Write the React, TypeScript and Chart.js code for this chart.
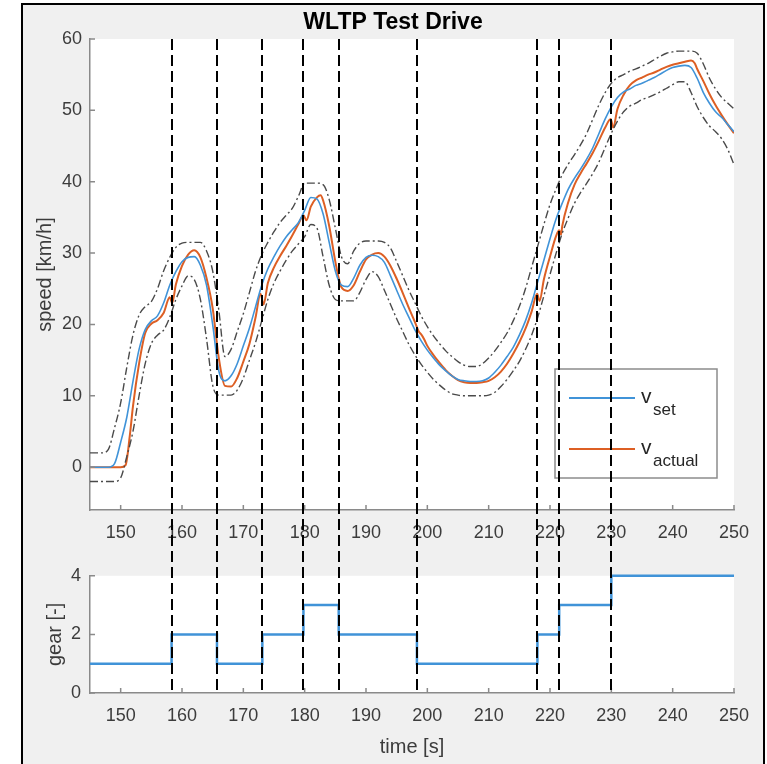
import React, { useEffect, useRef } from 'react';
import { Chart, registerables } from 'chart.js';

Chart.register(...registerables);

const titleText = 'WLTP Test Drive';
const speedLabel = 'speed [km/h]';
const gearLabel = 'gear [-]';
const timeLabel = 'time [s]';
const legendMain = ['v', 'v'];
const legendSubs = ['set', 'actual'];

const xMin = 145;
const xMax = 250;
const xTicks = [150, 160, 170, 180, 190, 200, 210, 220, 230, 240, 250];
const speedTicks = [0, 10, 20, 30, 40, 50, 60];
const gearTicks = [0, 2, 4];

const tSet = [
  145, 146, 147, 148, 149, 150, 151, 152, 153, 154, 155, 156, 157, 158, 159, 160, 161, 162, 163, 164,
  165, 166, 167, 168, 169, 170, 171, 172, 173, 174, 175, 176, 177, 178, 179, 180, 181, 182, 183, 184,
  185, 186, 187, 188, 189, 190, 191, 192, 193, 194, 195, 196, 197, 198, 199, 200, 201, 202, 203, 204,
  205, 206, 207, 208, 209, 210, 211, 212, 213, 214, 215, 216, 217, 218, 219, 220, 221, 222, 223, 224,
  225, 226, 227, 228, 229, 230, 231, 232, 233, 234, 235, 236, 237, 238, 239, 240, 241, 242, 243, 244,
  245, 246, 247, 248, 249, 250,
];

const vSet = [
  0, 0, 0, 0, 0.5, 3.5, 7, 12, 16.5, 19.3, 20.5, 21.2, 23, 25.5, 27.4, 28.8, 29.4, 29.5, 28.3, 25.5,
  20, 13.5, 12.1, 12.8, 14.5, 17, 19.5, 22.5, 25.5, 27.8, 29.5, 31, 32.3, 33.3, 34.3, 36, 37.8, 37.6, 35.5, 31.5,
  27.5, 25.5, 25.3, 26.5, 28.3, 29.4, 29.7, 29.5, 28.7, 26.8, 24.8, 22.8, 21, 19.2, 17.7, 16.4, 15.3, 14.3, 13.5, 12.8,
  12.3, 12.1, 12, 12, 12.1, 12.5, 13.3, 14.3, 15.5, 16.8, 18.5, 20.5, 23, 26, 29, 32, 34.8, 37, 39, 40.5,
  41.8, 43.2, 44.8, 46.8, 48.8, 50.5, 51.8, 52.6, 53, 53.5, 53.8, 54.2, 54.6, 55.1, 55.6, 56, 56.2, 56.3, 56, 54.5,
  52.5, 51, 49.8, 49, 48, 47,
];

const vUpper = [
  2, 2, 2, 2.5, 5.5, 9, 14, 18.5, 21.3, 22.5, 23.2, 25, 27.5, 29.4, 30.8, 31.4, 31.5, 31.5, 31.5, 30.3,
  27.5, 22, 15.5, 16.5, 19, 21.5, 24.5, 27.5, 29.8, 31.5, 33, 34.3, 35.3, 36.3, 38, 39.8, 39.8, 39.8, 39.6, 37.5,
  33.5, 29.5, 28.5, 30.3, 31.4, 31.7, 31.7, 31.7, 31.5, 30.7, 28.8, 26.8, 24.8, 23, 21.2, 19.7, 18.4, 17.3, 16.3, 15.5,
  14.8, 14.3, 14.1, 14.1, 14.5, 15.3, 16.3, 17.5, 18.8, 20.5, 22.5, 25, 28, 31, 34, 36.8, 39, 41, 42.5, 43.8,
  45.2, 46.8, 48.8, 50.8, 52.5, 53.8, 54.6, 55, 55.5, 55.8, 56.2, 56.6, 57.1, 57.6, 58, 58.2, 58.3, 58.3, 58.3, 58,
  56.5, 54.5, 53, 51.8, 51, 50.2,
];

const vLower = [
  -2, -2, -2, -2, -2, -1.5, 1.5, 5, 10, 14.5, 17.3, 18.5, 19.2, 21, 23.5, 25.4, 26.8, 26.3, 23.5, 18,
  11.5, 10.1, 10.1, 10.1, 10.8, 12.5, 15, 17.5, 20.5, 23.5, 25.8, 27.5, 29, 30.3, 31.3, 32.3, 34, 33.5, 29.5, 25.5,
  23.5, 23.3, 23.3, 23.3, 24.5, 26.3, 27.4, 26.7, 24.8, 22.8, 20.8, 19, 17.2, 15.7, 14.4, 13.3, 12.3, 11.5, 10.8, 10.3,
  10.1, 10, 10, 10, 10, 10.1, 10.5, 11.3, 12.3, 13.5, 14.8, 16.5, 18.5, 21, 24, 27, 30, 32.8, 35, 37,
  38.5, 39.8, 41.2, 42.8, 44.8, 46.8, 48.5, 49.8, 50.6, 51, 51.5, 51.8, 52.2, 52.6, 53.1, 53.6, 54, 54, 52.5, 50.5,
  49, 47.8, 47, 46, 44.5, 42.4,
];

const tAct = [
  145, 150, 150.8, 151.5, 152, 153, 154, 155, 156, 157, 158, 158.4, 159, 160, 161, 162, 163, 164, 165, 166,
  167, 168, 169, 170, 171, 172, 172.8, 173.3, 174, 175, 176, 177, 178, 179, 179.8, 180.3, 181, 182, 182.6, 183,
  184, 185, 185.6, 186, 187, 188, 189, 190, 191, 192, 193, 194, 195, 196, 197, 198, 198.6, 199, 199.5, 200,
  201, 202, 203, 204, 205, 206, 207, 208, 209, 210, 211, 212, 213, 214, 215, 216, 217, 217.9, 218.3, 219,
  220, 221, 221.5, 221.8, 222, 223, 224, 225, 226, 227, 228, 229, 229.9, 230.3, 231, 232, 233, 234, 235, 236,
  237, 238, 239, 240, 241, 242, 243, 243.6, 244, 245, 246, 247, 248, 249, 250,
];

const vAct = [
  0, 0, 0.3, 4.5, 8.5, 14.5, 18.8, 20.1, 20.6, 21.6, 23.8, 23.0, 25.6, 28.2, 29.8, 30.4, 29.4, 26.5, 22.3, 15.3,
  11.4, 11.3, 12.5, 14.8, 17.3, 21, 24.3, 22.8, 25.8, 28, 29.6, 31, 32.5, 34.1, 35.3, 34.6, 36.5, 37.8, 38.1, 37.4,
  33.8, 28.8, 26.3, 25.2, 24.7, 25.5, 27.4, 29.1, 29.8, 30, 29.5, 28.2, 26.4, 24.4, 22.3, 20.3, 19.0, 18.6, 17.9, 17,
  15.7, 14.6, 13.6, 12.8, 12.2, 11.9, 11.8, 11.8, 11.9, 12.1, 12.6, 13.4, 14.5, 15.9, 17.5, 19.4, 21.8, 24.3, 23.3, 26.3,
  29.5, 32.4, 33.2, 32.6, 33.8, 37.2, 39.6, 41.2, 42.6, 44.1, 45.8, 47.6, 48.8, 47.6, 50.2, 52.2, 53.5, 54.2, 54.6, 55,
  55.3, 55.7, 56.1, 56.4, 56.6, 56.8, 57, 56.6, 55.8, 54.1, 52.3, 50.7, 49.3, 48, 46.8,
];

const shiftTimes = [158.3, 165.7, 173.1, 179.8, 185.55, 198.3, 217.95, 221.5, 230.0];
const gears = [1, 2, 1, 2, 3, 2, 1, 2, 3, 4];

const FONT = "'Liberation Sans', Arial, Helvetica, sans-serif";
const AXIS_COLOR = '#8a8a8a';
const TEXT_COLOR = '#3c3c3c';
const BLUE = '#4093d8';
const ORANGE = '#dd5f24';
const BAND = '#4a4a4a';

const shared = { topLen: 0 };

const bgPlugin = {
  id: 'plotBg',
  beforeDraw(chart: any) {
    const { ctx, chartArea: a } = chart;
    ctx.save();
    ctx.fillStyle = '#ffffff';
    ctx.fillRect(a.left, a.top, a.right - a.left, a.bottom - a.top);
    ctx.restore();
  },
};

function drawInTicks(chart: any) {
  const { ctx, chartArea: a, scales } = chart;
  const x = scales.x;
  const y = scales.y;
  ctx.save();
  ctx.strokeStyle = AXIS_COLOR;
  ctx.lineWidth = 1.5;
  ctx.beginPath();
  x.ticks.forEach((t: any) => {
    const px = x.getPixelForValue(t.value);
    ctx.moveTo(px, a.bottom);
    ctx.lineTo(px, a.bottom - 5);
  });
  y.ticks.forEach((t: any) => {
    const py = y.getPixelForValue(t.value);
    ctx.moveTo(a.left, py);
    ctx.lineTo(a.left + 5, py);
  });
  ctx.stroke();
  ctx.restore();
}

function drawShifts(chart: any, y0: number, y1: number, offset: number) {
  const { ctx, scales } = chart;
  const x = scales.x;
  ctx.save();
  ctx.strokeStyle = '#000000';
  ctx.lineWidth = 2;
  ctx.setLineDash([11, 5]);
  ctx.lineDashOffset = offset;
  shiftTimes.forEach((t) => {
    const px = Math.round(x.getPixelForValue(t));
    ctx.beginPath();
    ctx.moveTo(px, y0);
    ctx.lineTo(px, y1);
    ctx.stroke();
  });
  ctx.restore();
}

function drawLegend(chart: any) {
  const { ctx, chartArea: a } = chart;
  const boxW = 162;
  const boxH = 109;
  const bx = a.right - 17 - boxW;
  const by = a.bottom - 32 - boxH;
  ctx.save();
  ctx.fillStyle = '#ffffff';
  ctx.fillRect(bx, by, boxW, boxH);
  ctx.strokeStyle = '#8c8c8c';
  ctx.lineWidth = 1.5;
  ctx.strokeRect(bx, by, boxW, boxH);
  const entries = chart.data.datasets.filter((d: any) => d.inLegend);
  entries.forEach((d: any, i: number) => {
    const ry = by + 29 + i * 51;
    ctx.strokeStyle = d.borderColor;
    ctx.lineWidth = 2;
    ctx.beginPath();
    ctx.moveTo(bx + 14, ry);
    ctx.lineTo(bx + 80, ry);
    ctx.stroke();
    ctx.fillStyle = '#262626';
    ctx.textAlign = 'left';
    ctx.textBaseline = 'alphabetic';
    ctx.font = `21px ${FONT}`;
    ctx.fillText(legendMain[i], bx + 86, ry + 5);
    ctx.font = `17px ${FONT}`;
    ctx.fillText(legendSubs[i], bx + 98, ry + 17);
  });
  ctx.restore();
}

const topOverlay = {
  id: 'topOverlay',
  afterDraw(chart: any) {
    drawInTicks(chart);
    drawLegend(chart);
    const a = chart.chartArea;
    shared.topLen = chart.height - a.top;
    drawShifts(chart, a.top, chart.height, 0);
  },
};

const bottomOverlay = {
  id: 'bottomOverlay',
  afterDraw(chart: any) {
    drawInTicks(chart);
    drawShifts(chart, 0, chart.chartArea.bottom, shared.topLen);
  },
};

function xScale(height: number) {
  return {
    type: 'linear',
    min: xMin,
    max: xMax,
    grid: { display: false, drawTicks: false },
    border: { display: true, color: AXIS_COLOR, width: 1.5 },
    ticks: { color: TEXT_COLOR, font: { family: FONT, size: 18 }, padding: 12, autoSkip: false, maxRotation: 0 },
    afterBuildTicks: (s: any) => {
      s.ticks = xTicks.map((v) => ({ value: v }));
    },
    afterFit: (s: any) => {
      s.height = height;
      s.paddingRight = 33;
    },
  };
}

export default function App() {
  const topRef = useRef<HTMLCanvasElement>(null);
  const botRef = useRef<HTMLCanvasElement>(null);

  useEffect(() => {
    const pts = (ts: number[], vs: number[]) => ts.map((t, i) => ({ x: t, y: vs[i] }));
    const gearPts = gears.map((g, i) => ({ x: i === 0 ? xMin : shiftTimes[i - 1], y: g }));
    gearPts.push({ x: xMax, y: gears[gears.length - 1] });

    const common = {
      pointRadius: 0,
      fill: false,
      cubicInterpolationMode: 'monotone',
    };

    const top = new Chart(topRef.current as HTMLCanvasElement, {
      type: 'line',
      data: {
        datasets: [
          { ...common, label: 'upper', data: pts(tSet, vUpper), borderColor: BAND, borderWidth: 1.4, borderDash: [8, 3, 2, 3] },
          { ...common, label: 'lower', data: pts(tSet, vLower), borderColor: BAND, borderWidth: 1.4, borderDash: [8, 3, 2, 3] },
          { ...common, label: 'v_set', inLegend: true, data: pts(tSet, vSet), borderColor: BLUE, borderWidth: 1.6 },
          { ...common, label: 'v_actual', inLegend: true, data: pts(tAct, vAct), borderColor: ORANGE, borderWidth: 2 },
        ] as any,
      },
      options: {
        responsive: false,
        maintainAspectRatio: false,
        animation: false,
        events: [],
        layout: { padding: { left: 19, top: 0, right: 0, bottom: 0 } },
        plugins: {
          legend: { display: false },
          tooltip: { enabled: false },
          title: {
            display: true,
            text: titleText,
            color: '#000000',
            font: { family: FONT, size: 23, weight: 'bold' },
            padding: { top: 8.7, bottom: 2.7 },
          },
        },
        scales: {
          x: xScale(46) as any,
          y: {
            type: 'linear',
            min: -6,
            max: 60,
            grid: { display: false, drawTicks: false },
            border: { display: true, color: AXIS_COLOR, width: 1.5 },
            ticks: { color: TEXT_COLOR, font: { family: FONT, size: 18 }, padding: 8 },
            afterBuildTicks: (s: any) => {
              s.ticks = speedTicks.map((v) => ({ value: v }));
            },
            afterFit: (s: any) => {
              s.width = 71;
            },
            title: {
              display: true,
              text: speedLabel,
              color: TEXT_COLOR,
              font: { family: FONT, size: 20 },
              padding: { top: 14, bottom: 0 },
            },
          } as any,
        },
      },
      plugins: [bgPlugin, topOverlay],
    });

    const bottom = new Chart(botRef.current as HTMLCanvasElement, {
      type: 'line',
      data: {
        datasets: [
          { label: 'gear', data: gearPts, borderColor: BLUE, borderWidth: 2.5, pointRadius: 0, fill: false, stepped: true, clip: 4 },
        ] as any,
      },
      options: {
        responsive: false,
        maintainAspectRatio: false,
        animation: false,
        events: [],
        layout: { padding: { left: 19, top: 17, right: 0, bottom: 0 } },
        plugins: {
          legend: { display: false },
          tooltip: { enabled: false },
          title: { display: false },
        },
        scales: {
          x: {
            ...(xScale(71) as any),
            title: {
              display: true,
              text: timeLabel,
              color: TEXT_COLOR,
              font: { family: FONT, size: 20 },
              padding: { top: 0, bottom: 5 },
            },
          },
          y: {
            type: 'linear',
            min: 0,
            max: 4,
            grid: { display: false, drawTicks: false },
            border: { display: true, color: AXIS_COLOR, width: 1.5 },
            ticks: { color: TEXT_COLOR, font: { family: FONT, size: 18 }, padding: 9 },
            afterBuildTicks: (s: any) => {
              s.ticks = gearTicks.map((v) => ({ value: v }));
            },
            afterFit: (s: any) => {
              s.width = 71;
            },
            title: {
              display: true,
              text: gearLabel,
              color: TEXT_COLOR,
              font: { family: FONT, size: 20 },
              padding: { top: 24, bottom: 0 },
            },
          } as any,
        },
      },
      plugins: [bgPlugin, bottomOverlay],
    });

    return () => {
      top.destroy();
      bottom.destroy();
    };
  }, []);

  return (
    <div style={{ position: 'fixed', left: 0, top: 0, width: 767, height: 764, background: '#ffffff', overflow: 'hidden' }}>
      <div
        style={{
          position: 'absolute',
          left: 21,
          top: 3,
          width: 744,
          height: 790,
          background: '#f0f0f0',
          border: '2px solid #000000',
          boxSizing: 'border-box',
        }}
      />
      <canvas ref={topRef} width={767} height={556} style={{ position: 'absolute', left: 0, top: 0 }} />
      <canvas ref={botRef} width={767} height={208} style={{ position: 'absolute', left: 0, top: 556 }} />
    </div>
  );
}
